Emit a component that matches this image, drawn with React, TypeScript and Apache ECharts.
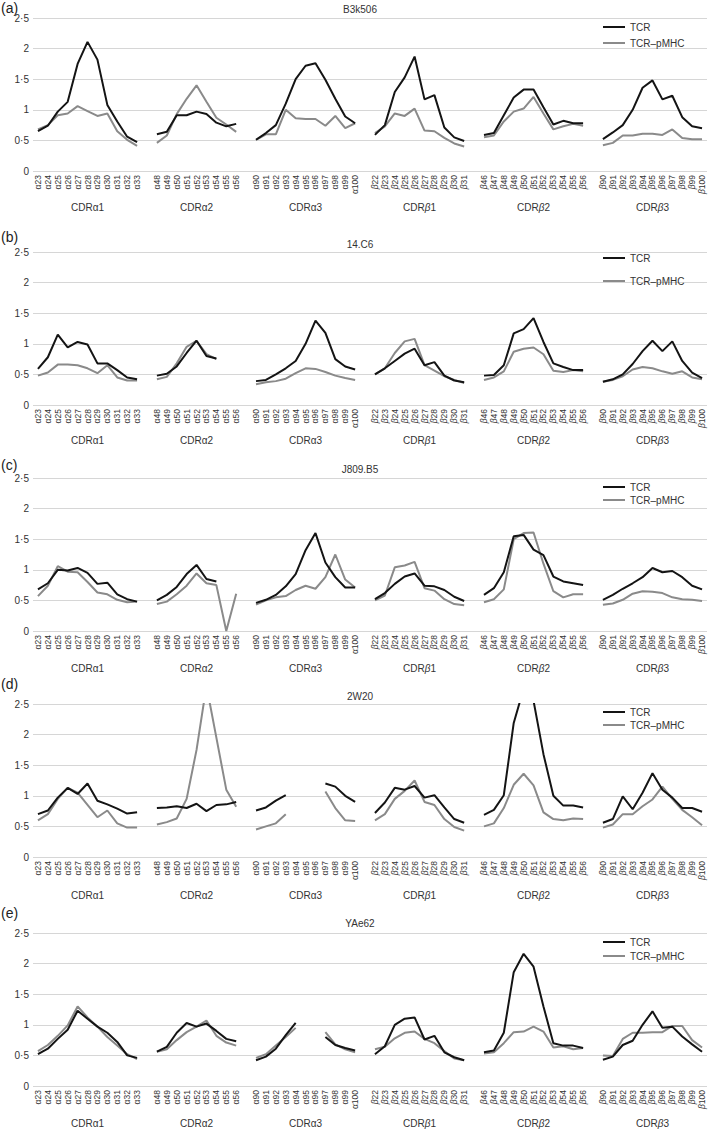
import React, { useEffect, useRef } from 'react';
import * as echarts from 'echarts';

// ---- categories / tick labels ----
const cdrA1 = ['α23', 'α24', 'α25', 'α26', 'α27', 'α28', 'α29', 'α30', 'α31', 'α32', 'α33'];
const cdrA2 = ['α48', 'α49', 'α50', 'α51', 'α52', 'α53', 'α54', 'α55', 'α56'];
const cdrA3 = ['α90', 'α91', 'α92', 'α93', 'α94', 'α95', 'α96', 'α97', 'α98', 'α99', 'α100'];
const cdrB1 = ['β22', 'β23', 'β24', 'β25', 'β26', 'β27', 'β28', 'β29', 'β30', 'β31'];
const cdrB2 = ['β46', 'β47', 'β48', 'β49', 'β50', 'β51', 'β52', 'β53', 'β54', 'β55', 'β56'];
const cdrB3 = ['β90', 'β91', 'β92', 'β93', 'β94', 'β95', 'β96', 'β97', 'β98', 'β99', 'β100'];
const groupCats = [cdrA1, cdrA2, cdrA3, cdrB1, cdrB2, cdrB3];
const groupNames = ['CDRα1', 'CDRα2', 'CDRα3', 'CDRβ1', 'CDRβ2', 'CDRβ3'];

const panelTitles = ['B3k506', '14.C6', 'J809.B5', '2W20', 'YAe62'];
const panelTags = ['(a)', '(b)', '(c)', '(d)', '(e)'];
const seriesNames = ['TCR', 'TCR–pMHC'];
const yTicks = [0, 0.5, 1, 1.5, 2, 2.5];

// ---- values (order: CDRα1 | CDRα2 | CDRα3 | CDRβ1 | CDRβ2 | CDRβ3) ----
const b3k506TCR = [
  0.65, 0.74, 0.97, 1.13, 1.75, 2.11, 1.82, 1.08, 0.81, 0.56, 0.47,
  0.6, 0.64, 0.91, 0.91, 0.97, 0.93, 0.79, 0.73, 0.77,
  0.51, 0.62, 0.75, 1.1, 1.5, 1.72, 1.76, 1.49, 1.18, 0.89, 0.78,
  0.59, 0.75, 1.29, 1.53, 1.87, 1.17, 1.24, 0.71, 0.55, 0.49,
  0.59, 0.62, 0.91, 1.2, 1.33, 1.33, 1.04, 0.76, 0.82, 0.78, 0.78,
  0.52, 0.63, 0.75, 1.0, 1.36, 1.48, 1.17, 1.23, 0.88, 0.73, 0.7,
];
const b3k506PMHC = [
  0.68, 0.75, 0.91, 0.94, 1.06, 0.98, 0.9, 0.94, 0.65, 0.51, 0.41,
  0.46, 0.58, 0.93, 1.18, 1.4, 1.13, 0.87, 0.76, 0.64,
  0.51, 0.6, 0.6, 1.0, 0.86, 0.85, 0.85, 0.74, 0.9, 0.7, 0.78,
  0.62, 0.73, 0.94, 0.9, 1.02, 0.66, 0.65, 0.54, 0.45, 0.4,
  0.55, 0.58, 0.81, 0.97, 1.02, 1.21, 0.94, 0.68, 0.73, 0.77, 0.74,
  0.42, 0.46, 0.58, 0.58, 0.61, 0.61, 0.59, 0.68, 0.54, 0.52, 0.52,
];
const c14C6TCR = [
  0.59, 0.78, 1.15, 0.94, 1.03, 0.99, 0.68, 0.68, 0.57, 0.45, 0.42,
  0.48, 0.51, 0.63, 0.85, 1.05, 0.8, 0.76, null, null,
  0.39, 0.41, 0.5, 0.6, 0.72, 1.0, 1.38, 1.18, 0.75, 0.63, 0.58,
  0.5, 0.6, 0.72, 0.84, 0.92, 0.65, 0.7, 0.48, 0.4, 0.37,
  0.48, 0.49, 0.65, 1.17, 1.24, 1.42, 1.03, 0.68, 0.62, 0.57, 0.57,
  0.38, 0.42, 0.5, 0.67, 0.88, 1.05, 0.88, 1.04, 0.72, 0.53, 0.44,
];
const c14C6PMHC = [
  0.48, 0.53, 0.66, 0.66, 0.65, 0.6, 0.52, 0.65, 0.45, 0.4, 0.4,
  0.42, 0.46, 0.68, 0.95, 1.05, 0.83, 0.75, null, null,
  0.34, 0.37, 0.39, 0.43, 0.52, 0.6, 0.59, 0.54, 0.48, 0.44, 0.41,
  0.5, 0.6, 0.85, 1.04, 1.08, 0.65, 0.56, 0.47, 0.41, 0.36,
  0.41, 0.45, 0.55, 0.87, 0.92, 0.94, 0.83, 0.56, 0.54, 0.57, 0.55,
  0.38, 0.41, 0.47, 0.58, 0.62, 0.6, 0.55, 0.51, 0.55, 0.45, 0.42,
];
const j809TCR = [
  0.68, 0.78, 1.0, 0.99, 1.03, 0.95, 0.77, 0.79, 0.6, 0.52, 0.48,
  0.5, 0.59, 0.72, 0.93, 1.08, 0.85, 0.81, null, null,
  0.46, 0.51, 0.59, 0.73, 0.93, 1.32, 1.6, 1.12, 0.88, 0.71, 0.71,
  0.52, 0.62, 0.77, 0.89, 0.94, 0.74, 0.73, 0.67, 0.56, 0.49,
  0.59, 0.7, 0.96, 1.55, 1.57, 1.33, 1.24, 0.89, 0.81, 0.78, 0.75,
  0.51, 0.59, 0.69, 0.78, 0.88, 1.03, 0.96, 0.98, 0.88, 0.74, 0.68,
];
const j809PMHC = [
  0.57, 0.74, 1.06, 0.97, 0.96, 0.8, 0.63, 0.6, 0.51, 0.47, 0.48,
  0.44, 0.48, 0.6, 0.74, 0.94, 0.78, 0.75, 0, 0.61,
  0.43, 0.5, 0.55, 0.57, 0.67, 0.74, 0.69, 0.88, 1.25, 0.84, 0.71,
  0.5, 0.58, 1.04, 1.07, 1.13, 0.7, 0.66, 0.52, 0.44, 0.42,
  0.47, 0.52, 0.68, 1.5, 1.6, 1.61, 1.1, 0.65, 0.55, 0.6, 0.6,
  0.43, 0.45, 0.51, 0.61, 0.65, 0.64, 0.62, 0.55, 0.52, 0.51, 0.49,
];
const w2W20TCR = [
  0.7, 0.76, 0.97, 1.13, 1.03, 1.2, 0.92, 0.86, 0.79, 0.71, 0.73,
  0.8, 0.81, 0.83, 0.8, 0.87, 0.75, 0.85, 0.86, 0.9,
  0.76, 0.81, 0.92, 1.01, null, null, null, 1.2, 1.15, 1.0, 0.9,
  0.72, 0.89, 1.13, 1.1, 1.16, 0.97, 1.01, 0.81, 0.62, 0.56,
  0.69, 0.77, 1.01, 2.19, 2.75, 2.55, 1.68, 1.0, 0.84, 0.84, 0.81,
  0.56, 0.62, 0.99, 0.78, 1.05, 1.37, 1.1, 0.97, 0.8, 0.8, 0.74,
];
const w2W20PMHC = [
  0.6, 0.7, 0.95, 1.13, 1.05, 0.85, 0.65, 0.76, 0.55, 0.48, 0.48,
  0.53, 0.57, 0.63, 0.95, 1.75, 2.8, 1.95, 1.1, 0.82,
  0.45, 0.5, 0.55, 0.7, null, null, null, 1.07, 0.8, 0.6, 0.59,
  0.6, 0.7, 0.95, 1.08, 1.25, 0.9, 0.85, 0.62, 0.49, 0.43,
  0.5, 0.55, 0.8, 1.18, 1.36, 1.17, 0.73, 0.62, 0.6, 0.63, 0.62,
  0.48, 0.53, 0.7, 0.7, 0.83, 0.94, 1.15, 0.95, 0.77, 0.65, 0.52,
];
const yae62TCR = [
  0.52, 0.61, 0.77, 0.92, 1.23, 1.1, 0.97, 0.87, 0.72, 0.5, 0.46,
  0.56, 0.64, 0.87, 1.03, 0.97, 1.02, 0.9, 0.77, 0.73,
  0.42, 0.48, 0.61, 0.83, 1.03, null, null, 0.8, 0.67, 0.62, 0.58,
  0.52, 0.65, 1.0, 1.1, 1.12, 0.76, 0.82, 0.55, 0.47, 0.42,
  0.55, 0.58, 0.87, 1.86, 2.16, 1.95, 1.3, 0.7, 0.66, 0.66, 0.62,
  0.43, 0.48, 0.67, 0.74, 1.0, 1.22, 0.95, 0.97, 0.81, 0.68, 0.56,
];
const yae62PMHC = [
  0.57, 0.67, 0.82, 0.99, 1.3, 1.12, 0.97, 0.8, 0.66, 0.52, 0.44,
  0.56, 0.6, 0.75, 0.88, 0.97, 1.07, 0.82, 0.71, 0.66,
  0.46, 0.52, 0.66, 0.8, 0.95, null, null, 0.88, 0.68, 0.6, 0.55,
  0.6, 0.64, 0.78, 0.87, 0.89, 0.77, 0.7, 0.57, 0.45, 0.42,
  0.53, 0.55, 0.7, 0.88, 0.89, 0.97, 0.89, 0.63, 0.65, 0.6, 0.62,
  0.5, 0.49, 0.77, 0.87, 0.87, 0.88, 0.88, 0.98, 0.98, 0.75, 0.63,
];
const panelTCR = [b3k506TCR, c14C6TCR, j809TCR, w2W20TCR, yae62TCR];
const panelPMHC = [b3k506PMHC, c14C6PMHC, j809PMHC, w2W20PMHC, yae62PMHC];

// ---- layout (not data) ----
const W = 709;
const H = 1129;
const GRID_LEFT = 33;
const GRID_RIGHT = 2;
const GRID_TOPS = [18, 252, 478, 704, 933];
const GRID_H = 153;
const TITLE_Y = [9, 244, 469, 696, 923];
const TAG_Y = [8, 237, 465, 684, 913];
const LEGEND_Y1 = [27, 258, 487, 712, 942];
const LEGEND_Y2 = [43, 281, 500, 725, 956];
const GROUP_Y = [207, 440, 668, 895, 1123];
const FONT = '"Liberation Sans", Arial, Helvetica, sans-serif';
const BLACK = '#141414';
const GREY = '#8a8a8a';

function buildCategories(): string[] {
  const out: string[] = [];
  groupCats.forEach((g, i) => {
    if (i > 0) out.push('_gap' + i);
    g.forEach((c) => out.push(c));
  });
  return out;
}

function withGaps(flat: (number | null)[]): (number | null)[] {
  const out: (number | null)[] = [];
  let k = 0;
  groupCats.forEach((g, i) => {
    if (i > 0) out.push(null);
    for (let j = 0; j < g.length; j++) out.push(flat[k++]);
  });
  return out;
}

function richGreek(s: string, size: number): string {
  // italic beta as in the original
  return s.replace(/β/g, '{i|β}');
}

export default function App() {
  const ref = useRef<HTMLDivElement>(null);

  useEffect(() => {
    if (!ref.current) return;
    const chart = echarts.init(ref.current, null, { renderer: 'svg', width: W, height: H });
    const cats = buildCategories();
    const nCats = cats.length;
    const plotW = W - GRID_LEFT - GRID_RIGHT;
    const catW = plotW / nCats;

    const grids: any[] = [];
    const xAxes: any[] = [];
    const yAxes: any[] = [];
    const series: any[] = [];
    const legends: any[] = [];
    const graphics: any[] = [];

    for (let p = 0; p < 5; p++) {
      grids.push({ left: GRID_LEFT, right: GRID_RIGHT, top: GRID_TOPS[p], height: GRID_H });
      xAxes.push({
        type: 'category',
        gridIndex: p,
        data: cats,
        boundaryGap: true,
        axisLine: { show: false },
        axisTick: { show: false },
        axisLabel: {
          interval: 0,
          rotate: 90,
          margin: 4,
          fontSize: 8.5,
          color: '#333',
          fontFamily: FONT,
          formatter: (v: string) => {
            if (v.startsWith('_gap')) return '';
            if (v.startsWith('β')) return '{i|β}{n|' + v.slice(1) + '}';
            return '{n|' + v + '}';
          },
          rich: {
            i: { fontStyle: 'italic', fontSize: 8.5, color: '#333', fontFamily: FONT },
            n: { fontSize: 8.5, color: '#333', fontFamily: FONT },
          },
        },
        splitLine: { show: false },
      });
      yAxes.push({
        type: 'value',
        gridIndex: p,
        min: yTicks[0],
        max: yTicks[yTicks.length - 1],
        interval: yTicks[1] - yTicks[0],
        axisLine: { show: false },
        axisTick: { show: false },
        axisLabel: {
          fontSize: 10,
          color: '#333',
          margin: 4,
          fontFamily: FONT,
          formatter: (v: number) => String(v).replace('.', '·'),
        },
        splitLine: { show: true, lineStyle: { color: '#d6d6d6', width: 1 } },
      });
      series.push({
        type: 'line',
        name: seriesNames[0],
        xAxisIndex: p,
        yAxisIndex: p,
        data: withGaps(panelTCR[p]),
        symbol: 'none',
        showSymbol: false,
        connectNulls: false,
        color: BLACK,
        itemStyle: { color: BLACK },
        lineStyle: { color: BLACK, width: 2 },
        z: 3,
      });
      series.push({
        type: 'line',
        name: seriesNames[1],
        xAxisIndex: p,
        yAxisIndex: p,
        data: withGaps(panelPMHC[p]),
        symbol: 'none',
        showSymbol: false,
        connectNulls: false,
        color: GREY,
        itemStyle: { color: GREY },
        lineStyle: { color: GREY, width: 2 },
        z: 2,
      });
      legends.push({
        data: seriesNames,
        orient: 'vertical',
        left: 603,
        top: LEGEND_Y1[p] - 6,
        itemGap: LEGEND_Y2[p] - LEGEND_Y1[p] - 12,
        itemWidth: 22,
        itemHeight: 2,
        icon: 'rect',
        selectedMode: false,
        padding: 0,
        textStyle: { fontSize: 10, color: '#333', fontFamily: FONT, lineHeight: 12 },
      });
      graphics.push({
        type: 'text',
        x: 360,
        y: TITLE_Y[p],
        style: { text: panelTitles[p], fontSize: 10, fill: '#333', fontFamily: FONT, align: 'center', verticalAlign: 'middle' },
      });
      graphics.push({
        type: 'text',
        x: 1,
        y: TAG_Y[p],
        style: { text: panelTags[p], fontSize: 14, fill: '#222', fontFamily: FONT, align: 'left', verticalAlign: 'middle' },
      });
      let start = 0;
      groupCats.forEach((g, gi) => {
        const center = start + (g.length - 1) / 2;
        const x = GRID_LEFT + catW * (center + 0.5);
        graphics.push({
          type: 'text',
          x,
          y: GROUP_Y[p],
          style: {
            text: richGreek(groupNames[gi], 10),
            fontSize: 10,
            fill: '#333',
            fontFamily: FONT,
            align: 'center',
            verticalAlign: 'middle',
            rich: { i: { fontStyle: 'italic', fontSize: 10, fill: '#333', fontFamily: FONT } },
          },
        });
        start += g.length + 1;
      });
    }

    chart.setOption({
      animation: false,
      backgroundColor: '#ffffff',
      textStyle: { fontFamily: FONT },
      grid: grids,
      xAxis: xAxes,
      yAxis: yAxes,
      legend: legends,
      series,
      graphic: graphics,
    });

    return () => {
      chart.dispose();
    };
  }, []);

  return (
    <div
      ref={ref}
      style={{ position: 'absolute', left: 0, top: 0, width: W, height: H, background: '#fff' }}
    />
  );
}
